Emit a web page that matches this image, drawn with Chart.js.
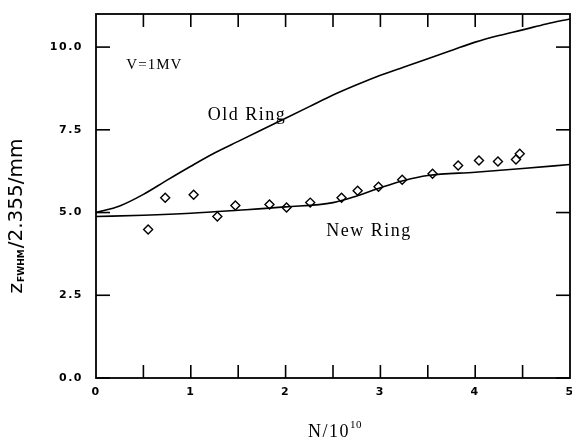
<!DOCTYPE html>
<html>
<head>
<meta charset="utf-8">
<script src="https://cdn.jsdelivr.net/npm/chart.js@4.4.0/dist/chart.umd.min.js"></script>
<style>
  html, body { margin: 0; padding: 0; background: #fff; }
  #wrap { width: 572px; height: 439px; }
</style>
</head>
<body>
<div id="wrap"><canvas id="chart"></canvas></div>
<script>
// curves (N/1e10 vs z/2.355 in mm)
const oldRingN = [0, 0.25, 0.5, 0.75, 1, 1.25, 1.5, 1.75, 2, 2.25, 2.5, 2.75, 3, 3.25, 3.5, 3.75, 4, 4.25, 4.5, 4.75, 5];
const oldRingZ = [5.0, 5.2, 5.55, 5.98, 6.4, 6.8, 7.15, 7.5, 7.85, 8.2, 8.55, 8.86, 9.15, 9.4, 9.65, 9.9, 10.15, 10.35, 10.52, 10.7, 10.85];
const newRingN = [0, 0.5, 1, 1.5, 2, 2.5, 2.75, 3, 3.25, 3.5, 4, 4.5, 5];
const newRingZ = [4.88, 4.92, 4.98, 5.07, 5.17, 5.3, 5.5, 5.75, 5.97, 6.12, 6.22, 6.33, 6.45];
// measured points (diamonds)
const measN = [0.55, 0.73, 1.03, 1.28, 1.47, 1.83, 2.01, 2.26, 2.59, 2.76, 2.98, 3.23, 3.55, 3.82, 4.04, 4.24, 4.43, 4.47];
const measZ = [4.49, 5.45, 5.54, 4.88, 5.21, 5.24, 5.15, 5.3, 5.45, 5.66, 5.78, 5.99, 6.17, 6.42, 6.57, 6.54, 6.6, 6.78];
// axes
const xTicks = [0, 1, 2, 3, 4, 5];
const xMinor = [0.5, 1, 1.5, 2, 2.5, 3, 3.5, 4, 4.5];
const yTicks = [0, 2.5, 5, 7.5, 10];

const pts = (xs, ys) => xs.map((v, i) => ({x: v, y: ys[i]}));

const spacing = {
    id: 'spacing',
    beforeDraw: (chart) => { chart.ctx.letterSpacing = '1.5px'; }
};

const frame = {
    id: 'frame',
    afterDraw: (chart) => {
        const {ctx, chartArea: a, scales: {x, y}} = chart;
        ctx.save();
        ctx.strokeStyle = '#000';
        ctx.lineWidth = 1.6;
        const seg = (x1, y1, x2, y2) => { ctx.beginPath(); ctx.moveTo(x1, y1); ctx.lineTo(x2, y2); ctx.stroke(); };
        xMinor.forEach(v => {
            const px = x.getPixelForValue(v);
            seg(px, a.bottom, px, a.bottom - 13);
            seg(px, a.top, px, a.top + 13);
        });
        yTicks.forEach(v => {
            const py = y.getPixelForValue(v);
            seg(a.left, py, a.left + 14, py);
            seg(a.right, py, a.right - 14, py);
        });
        ctx.lineWidth = 1.8;
        ctx.strokeRect(a.left, a.top, a.right - a.left, a.bottom - a.top);

        // labels inside the plot
        ctx.fillStyle = '#000';
        ctx.textBaseline = 'middle';
        ctx.textAlign = 'left';
        ctx.letterSpacing = '1px';
        ctx.font = '15px "Liberation Serif"';
        ctx.fillText('V=1MV', x.getPixelForValue(0.32), y.getPixelForValue(9.45));
        ctx.letterSpacing = '1.5px';
        ctx.font = '18px "Liberation Serif"';
        ctx.fillText('Old Ring', x.getPixelForValue(1.18), y.getPixelForValue(7.93));
        ctx.fillText('New Ring', x.getPixelForValue(2.43), y.getPixelForValue(4.44));

        // x title N/10^10
        ctx.textBaseline = 'alphabetic';
        ctx.font = '18px "Liberation Serif"';
        const w1 = ctx.measureText('N/10').width;
        ctx.fillText('N/10', 308, 437);
        ctx.letterSpacing = '0.5px';
        ctx.font = '11px "Liberation Serif"';
        ctx.fillText('10', 308 + w1, 428);

        // y title z_FWHM/2.355/mm
        ctx.letterSpacing = '0px';
        ctx.translate(17, 216);
        ctx.rotate(-Math.PI / 2);
        ctx.textBaseline = 'middle';
        ctx.font = '20px "DejaVu Sans"';
        const za = ctx.measureText('z').width;
        ctx.font = 'bold 9px "DejaVu Sans"';
        const zb = ctx.measureText('FWHM').width;
        ctx.font = '20px "DejaVu Sans"';
        const zc = ctx.measureText('/2.355/mm').width;
        let ox = -(za + zb + zc + 2) / 2;
        ctx.fillText('z', ox, 0);
        ctx.font = 'bold 9px "DejaVu Sans"';
        ctx.fillText('FWHM', ox + za + 1, 5);
        ctx.font = '20px "DejaVu Sans"';
        ctx.fillText('/2.355/mm', ox + za + zb + 2, 0);
        ctx.restore();
    }
};

new Chart(document.getElementById('chart'), {
    type: 'scatter',
    data: {
        datasets: [
            {
                label: 'Old Ring',
                data: pts(oldRingN, oldRingZ),
                showLine: true,
                borderColor: '#000',
                borderWidth: 1.6,
                pointRadius: 0,
                cubicInterpolationMode: 'monotone'
            },
            {
                label: 'New Ring',
                data: pts(newRingN, newRingZ),
                showLine: true,
                borderColor: '#000',
                borderWidth: 1.6,
                pointRadius: 0,
                cubicInterpolationMode: 'monotone'
            },
            {
                label: 'Measured',
                data: pts(measN, measZ),
                pointStyle: 'rectRot',
                pointRadius: 4.5,
                pointBackgroundColor: '#fff',
                pointBorderColor: '#000',
                pointBorderWidth: 1.4
            }
        ]
    },
    options: {
        responsive: true,
        maintainAspectRatio: false,
        animation: false,
        layout: { autoPadding: false, padding: { top: 14, right: 2, left: 0, bottom: 0 } },
        plugins: {
            legend: { display: false },
            tooltip: { enabled: false }
        },
        scales: {
            x: {
                type: 'linear',
                min: 0,
                max: 5,
                afterBuildTicks: (s) => { s.ticks = xTicks.map(v => ({value: v})); },
                afterFit: (s) => { s.height = 61; s.paddingLeft = 0; s.paddingRight = 0; },
                grid: { display: false, drawTicks: false },
                border: { display: false },
                ticks: {
                    padding: 8,
                    color: '#000',
                    font: { family: 'DejaVu Sans', size: 11, weight: 'bold' },
                    callback: (v) => String(v)
                }
            },
            y: {
                type: 'linear',
                min: 0,
                max: 11,
                afterBuildTicks: (s) => { s.ticks = yTicks.map(v => ({value: v})); },
                afterFit: (s) => { s.width = 96; s.paddingTop = 0; s.paddingBottom = 0; },
                grid: { display: false, drawTicks: false },
                border: { display: false },
                ticks: {
                    padding: 13,
                    color: '#000',
                    font: { family: 'DejaVu Sans', size: 11, weight: 'bold' },
                    callback: (v) => Number(v).toFixed(1)
                }
            }
        }
    },
    plugins: [spacing, frame]
});
</script>
</body>
</html>
